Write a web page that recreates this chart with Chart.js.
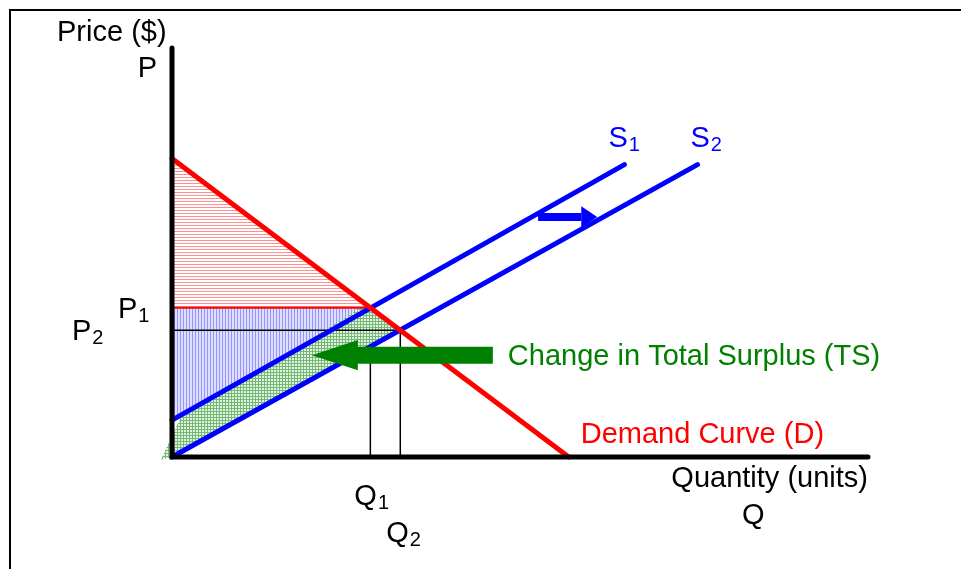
<!DOCTYPE html>
<html>
<head>
<meta charset="utf-8">
<script src="https://cdn.jsdelivr.net/npm/chart.js@4"></script>
<style>
  html, body { margin: 0; padding: 0; background: #fff; }
  #wrap { width: 961px; height: 569px; position: relative; }
</style>
</head>
<body>
<div id="wrap"><canvas id="surplusChart"></canvas></div>
<script>
// values (quantity, price in chart units)
const axisMax = [100, 100];
const demandQ = [0, 57];
const demandP = [73, 0];
const supply1Q = [0, 65];
const supply1P = [9, 71.5];
const supply2Q = [0, 75.5];
const supply2P = [0, 71.5];
const priceLevels = [36.5, 31];      // P1, P2
const quantityLevels = [28.5, 32.8]; // Q1, Q2
const tsQ = [-1.6, 1.2, 27.9, 32.8, 0];
const tsP = [-0.7, 9.5, 37.2, 31, 0];
const shiftArrowQ = [52.6, 58.8, 61.1];
const shiftArrowP = [58.7, 2.6];
const tsArrowQ = [20.1, 26.7, 46.1];
const tsArrowP = [24.9, 3.7];

const pts = (xs, ys) => xs.map((x, i) => ({ x: x, y: ys[i] }));

function makePattern(w, h, bg, fg, draw) {
    const c = document.createElement("canvas");
    c.width = w;
    c.height = h;
    const g = c.getContext("2d");
    g.fillStyle = bg;
    g.fillRect(0, 0, w, h);
    g.fillStyle = fg;
    draw(g);
    return g.createPattern(c, "repeat");
}

const redHatch = makePattern(4, 3, "#ffffff", "#ff9090", g => g.fillRect(0, 0, 4, 1));
const blueHatch = makePattern(3, 4, "#dedeff", "#9494ff", g => g.fillRect(0, 0, 1, 4));
const greenHatch = makePattern(3, 3, "#e2f2e2", "#74b874", g => {
    g.fillRect(0, 0, 3, 1);
    g.fillRect(0, 0, 1, 3);
});

const P1 = priceLevels[0], P2 = priceLevels[1];
const Q1 = quantityLevels[0], Q2 = quantityLevels[1];

function line(data, color, width, order, cap) {
    return {
        data: data,
        borderColor: color,
        borderWidth: width,
        borderCapStyle: cap || "butt",
        pointRadius: 0,
        fill: false,
        tension: 0,
        order: order,
        clip: false
    };
}

function shape(data, fillStyle, order) {
    return {
        data: data,
        borderColor: "transparent",
        borderWidth: 0,
        backgroundColor: fillStyle,
        pointRadius: 0,
        fill: "shape",
        tension: 0,
        order: order,
        clip: false
    };
}

const datasets = [
    line([{ x: Q1, y: P1 }, { x: Q1, y: 0 }], "#000", 1.5, 20),
    line([{ x: Q2, y: P2 }, { x: Q2, y: 0 }], "#000", 1.5, 20),
    shape([{ x: 0, y: demandP[0] }, { x: Q1, y: P1 }, { x: 0, y: P1 }, { x: 0, y: demandP[0] }], redHatch, 15),
    shape([{ x: 0, y: P1 }, { x: Q1, y: P1 }, { x: 0, y: supply1P[0] }, { x: 0, y: P1 }], blueHatch, 15),
    shape(pts(tsQ.concat(tsQ[0]), tsP.concat(tsP[0])), greenHatch, 14),
    line([{ x: 0, y: P1 }, { x: Q1, y: P1 }], "#ff0000", 2, 10),
    line([{ x: 0, y: P2 }, { x: Q2, y: P2 }], "#000", 1.5, 10),
    line(pts(demandQ, demandP), "#ff0000", 5, 8, "round"),
    line(pts(supply1Q, supply1P), "#0000ff", 5, 8, "round"),
    line(pts(supply2Q, supply2P), "#0000ff", 5, 8, "round"),
    line([{ x: 0, y: axisMax[1] }, { x: 0, y: 0 }, { x: axisMax[0], y: 0 }], "#000", 5, 6, "round"),
    line([{ x: shiftArrowQ[0], y: shiftArrowP[0] }, { x: shiftArrowQ[1], y: shiftArrowP[0] }], "#0000ff", 8, 4),
    shape([
        { x: shiftArrowQ[1], y: shiftArrowP[0] + shiftArrowP[1] },
        { x: shiftArrowQ[2], y: shiftArrowP[0] },
        { x: shiftArrowQ[1], y: shiftArrowP[0] - shiftArrowP[1] },
        { x: shiftArrowQ[1], y: shiftArrowP[0] + shiftArrowP[1] }
    ], "#0000ff", 4),
    line([{ x: tsArrowQ[1] - 0.3, y: tsArrowP[0] }, { x: tsArrowQ[2], y: tsArrowP[0] }], "#008000", 17, 2),
    shape([
        { x: tsArrowQ[1], y: tsArrowP[0] + tsArrowP[1] },
        { x: tsArrowQ[0], y: tsArrowP[0] },
        { x: tsArrowQ[1], y: tsArrowP[0] - tsArrowP[1] },
        { x: tsArrowQ[1], y: tsArrowP[0] + tsArrowP[1] }
    ], "#008000", 2)
];

const FONT = '"Liberation Sans", Arial, sans-serif';

const labelsPlugin = {
    id: "labels",
    afterDraw(chart) {
        const ctx = chart.ctx;
        const px = v => chart.scales.x.getPixelForValue(v);
        const py = v => chart.scales.y.getPixelForValue(v);

        function text(str, x, y, color, align, sub) {
            ctx.font = "29px " + FONT;
            ctx.fillStyle = color;
            ctx.textAlign = align || "left";
            ctx.textBaseline = "alphabetic";
            ctx.fillText(str, x, y);
            if (sub) {
                const w = ctx.measureText(str).width;
                ctx.font = "20px " + FONT;
                ctx.textAlign = "left";
                ctx.fillText(sub, x + w + 1, y + 4);
            }
        }

        ctx.save();
        // frame
        ctx.strokeStyle = "#000";
        ctx.lineWidth = 2;
        ctx.beginPath();
        ctx.moveTo(10, chart.height);
        ctx.lineTo(10, 10);
        ctx.lineTo(chart.width, 10);
        ctx.stroke();

        text("Price ($)", px(0) - 115, py(axisMax[1]) - 7, "#000");
        text("P", px(0) - 15, py(axisMax[1]) + 29, "#000", "right");
        text("S", px(supply1Q[1]) - 16, py(supply1P[1]) - 18, "#0000ff", "left", "1");
        text("S", px(supply2Q[1]) - 7, py(supply2P[1]) - 18, "#0000ff", "left", "2");
        text("P", px(0) - 54, py(P1) + 10, "#000", "left", "1");
        text("P", px(0) - 100, py(P2) + 10, "#000", "left", "2");
        text("Change in Total Surplus (TS)", px(tsArrowQ[2]) + 15, py(tsArrowP[0]) + 10, "#008000");
        text("Demand Curve (D)", px(demandQ[1]) + 12, py(0) - 14, "#ff0000");
        text("Quantity (units)", px(axisMax[0]), py(0) + 30, "#000", "right");
        text("Q", px(axisMax[0]) - 126, py(0) + 67, "#000");
        text("Q", px(Q1) - 16, py(0) + 48, "#000", "left", "1");
        text("Q", px(Q2) - 14, py(0) + 85, "#000", "left", "2");
        ctx.restore();
    }
};

// 1 quantity unit = 6.96 px, 1 price unit = 4.09 px, origin at (172, 457)
new Chart(document.getElementById("surplusChart"), {
    type: "line",
    data: { datasets: datasets },
    options: {
        responsive: true,
        maintainAspectRatio: false,
        animation: false,
        events: [],
        layout: { padding: 0 },
        plugins: {
            legend: { display: false },
            tooltip: { enabled: false }
        },
        scales: {
            x: { type: "linear", display: false, min: -172 / 6.96, max: (961 - 172) / 6.96 },
            y: { type: "linear", display: false, min: -(569 - 457) / 4.09, max: 457 / 4.09 }
        }
    },
    plugins: [labelsPlugin]
});
</script>
</body>
</html>
